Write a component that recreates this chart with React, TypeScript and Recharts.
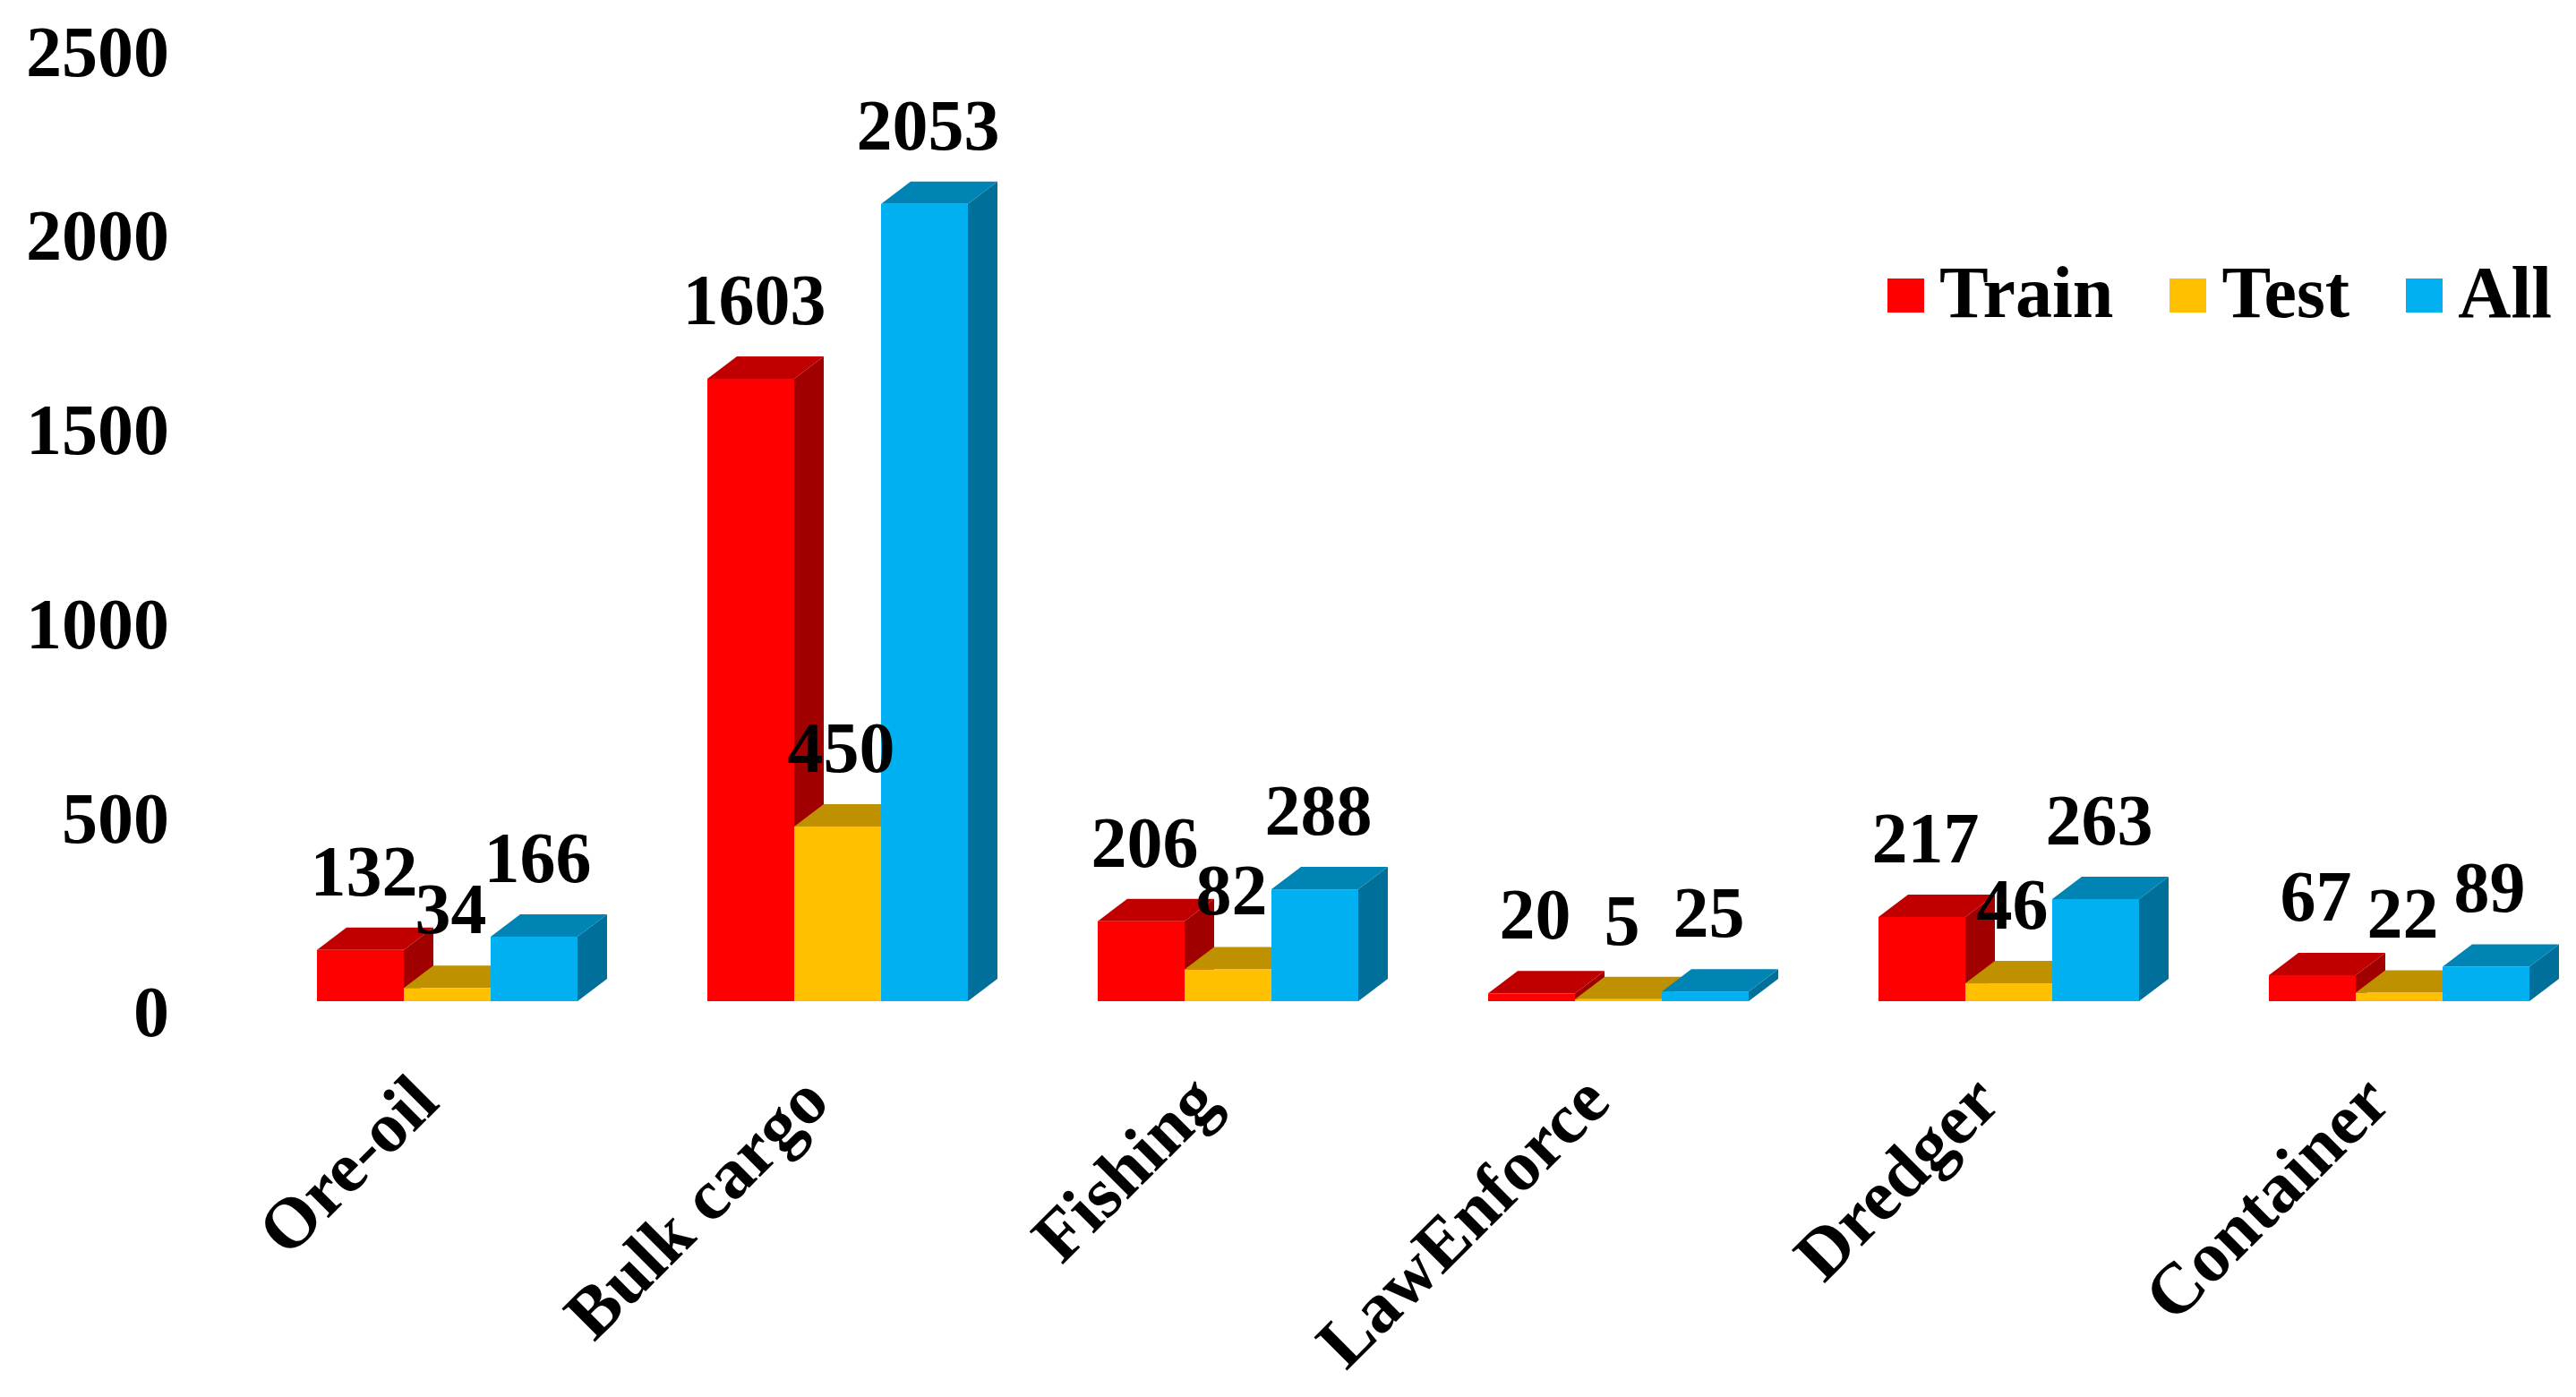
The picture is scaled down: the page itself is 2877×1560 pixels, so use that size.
import React from 'react';
import { BarChart, Bar, XAxis, YAxis, Legend, LabelList } from 'recharts';

const categories = ['Ore-oil', 'Bulk cargo', 'Fishing', 'LawEnforce', 'Dredger', 'Container'];
const train = [132, 1603, 206, 20, 217, 67];
const test = [34, 450, 82, 5, 46, 22];
const all = [166, 2053, 288, 25, 263, 89];
const yTicks = [0, 500, 1000, 1500, 2000, 2500];

const data = categories.map((name, i) => ({ name, Train: train[i], Test: test[i], All: all[i] }));

const FONT = '"Liberation Serif", serif';
const FONT_SIZE = 80;
const DEPTH_X = 33;
const DEPTH_Y = 25;

// front face + top + side, so the flat bars read like the 3D columns in the original
const box = (front: string, top: string, side: string) => (props: any) => {
  const { x, y, width, height } = props;
  const r = x + width;
  const b = y + height;
  return (
    <g>
      <polygon points={`${r},${y} ${r + DEPTH_X},${y - DEPTH_Y} ${r + DEPTH_X},${b - DEPTH_Y} ${r},${b}`} fill={side} />
      <polygon points={`${x},${y} ${x + DEPTH_X},${y - DEPTH_Y} ${r + DEPTH_X},${y - DEPTH_Y} ${r},${y}`} fill={top} />
      <rect x={x} y={y} width={width} height={height} fill={front} />
    </g>
  );
};

const XTick = (props: any) => {
  const x = props.x - 7;
  const y = props.y + 108;
  return (
    <text
      x={x}
      y={y}
      transform={`rotate(-45 ${x} ${y})`}
      textAnchor="end"
      fontFamily={FONT}
      fontWeight="bold"
      fontSize={FONT_SIZE}
      fill="#000"
    >
      {props.payload.value}
    </text>
  );
};

const LegendBox = ({ payload }: any) => (
  <div style={{ display: 'flex', alignItems: 'center', fontFamily: FONT, fontWeight: 'bold', fontSize: 82, lineHeight: '90px', color: '#000' }}>
    {(payload || []).map((entry: any) => (
      <div key={entry.value} style={{ display: 'flex', alignItems: 'center', marginRight: 63 }}>
        <span style={{ width: 41, height: 38, background: entry.color, marginRight: 17, marginTop: 6 }} />
        <span>{entry.value}</span>
      </div>
    ))}
  </div>
);

const labelProps = { position: 'top' as const, offset: 61, dx: 4, fontFamily: FONT, fontWeight: 'bold', fontSize: FONT_SIZE, fill: '#000' };

export default function App() {
  return (
    <div style={{ position: 'absolute', left: 0, top: 0, width: 2877, height: 1560, overflow: 'hidden', background: '#fff' }}>
      <BarChart
        width={2898}
        height={1560}
        data={data}
        margin={{ top: 34, right: 0, left: 0, bottom: 0 }}
        barCategoryGap={72}
        barGap={0}
      >
        <XAxis
          dataKey="name"
          height={442}
          interval={0}
          axisLine={false}
          tickLine={false}
          tick={<XTick />}
        />
        <YAxis
          width={282}
          domain={[0, 2500]}
          ticks={yTicks}
          axisLine={false}
          tickLine={false}
          tickMargin={87}
          tick={{ fontFamily: FONT, fontWeight: 'bold', fontSize: FONT_SIZE, fill: '#000', dy: 11 }}
        />
        <Legend
          layout="horizontal"
          verticalAlign="middle"
          align="center"
          itemSorter={null as any}
          content={<LegendBox />}
          wrapperStyle={{ left: 2108, top: 282, width: 790 }}
        />
        <Bar dataKey="Train" fill="#FF0000" isAnimationActive={false} shape={box('#FF0000', '#C00000', '#A00000')}>
          <LabelList dataKey="Train" {...labelProps} />
        </Bar>
        <Bar dataKey="Test" fill="#FFC000" isAnimationActive={false} shape={box('#FFC000', '#BF9000', '#A07800')}>
          <LabelList dataKey="Test" {...labelProps} />
        </Bar>
        <Bar dataKey="All" fill="#00B0F0" isAnimationActive={false} shape={box('#00B0F0', '#0084B4', '#00709A')}>
          <LabelList dataKey="All" {...labelProps} />
        </Bar>
      </BarChart>
    </div>
  );
}
